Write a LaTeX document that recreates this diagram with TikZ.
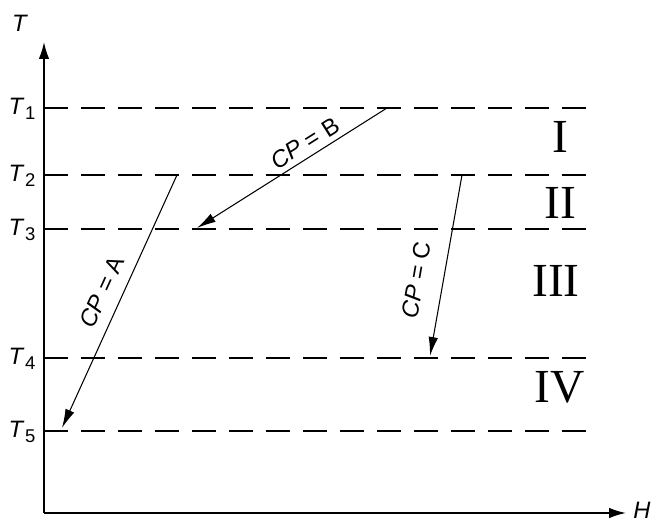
\documentclass[tikz,border=0pt]{standalone}
\usepackage{fontspec}
\setmainfont{Liberation Sans}
\newfontfamily\romanfont{Liberation Serif}
\usetikzlibrary{arrows.meta, positioning}
\newcommand{\tlev}[1]{\textit{T}\kern0.3pt\raisebox{-0.45ex}{\fontsize{10.5}{11}\selectfont #1}}

\begin{document}
\begin{tikzpicture}[
  x=0.02cm, y=-0.02cm,
  axis/.style={line width=0.9pt, -{Latex[length=0.34cm, width=0.21cm]}},
  level/.style={line width=0.7pt, dash pattern=on 0.48cm off 0.26cm},
  stream/.style={line width=0.6pt, -{Latex[length=0.38cm, width=0.19cm]}},
  templabel/.style={font=\fontsize{13.5}{15}\selectfont, inner sep=0pt},
  cplabel/.style={font=\fontsize{13.5}{15}\selectfont, inner sep=0pt},
  region/.style={font=\romanfont\fontsize{27}{30}\selectfont, inner sep=0pt}
]
  \useasboundingbox (0,0) rectangle (656,520);
  % axes
  \coordinate (O) at (44,513);
  \coordinate (Ytop) at (44,42);
  \coordinate (Xend) at (626,513);
  \node[templabel] (Tax) at (20,23) {\textit{T}};
  \node[templabel] (Hax) at (642,510) {\textit{H}};
  \draw[axis] (O) -- (Ytop);
  \draw[axis] (O) -- (Xend);
  % temperature levels
  \node[templabel] (T1) at (22,109) {\tlev{1}};
  \node[templabel] (T2) at (22,176) {\tlev{2}};
  \node[templabel] (T3) at (22,230) {\tlev{3}};
  \node[templabel] (T4) at (22,359) {\tlev{4}};
  \node[templabel] (T5) at (22,432) {\tlev{5}};
  \coordinate (L1) at (44,108); \coordinate (R1) at (595,108);
  \coordinate (L2) at (44,175); \coordinate (R2) at (595,175);
  \coordinate (L3) at (44,229); \coordinate (R3) at (595,229);
  \coordinate (L4) at (44,358); \coordinate (R4) at (595,358);
  \coordinate (L5) at (44,431); \coordinate (R5) at (595,431);
  \draw[level] (L1) -- (R1);
  \draw[level] (L2) -- (R2);
  \draw[level] (L3) -- (R3);
  \draw[level] (L4) -- (R4);
  \draw[level] (L5) -- (R5);
  % intervals
  \node[region] (I) at (560,137) {I};
  \node[region] (II) at (560,203) {II};
  \node[region] (III) at (556,281) {III};
  \node[region] (IV) at (560,387) {IV};
  % streams
  \coordinate (Astart) at (177,175);
  \coordinate (Aend) at (62,428);
  \coordinate (Bstart) at (387,108);
  \coordinate (Bend) at (197,228);
  \coordinate (Cstart) at (462,175);
  \coordinate (Cend) at (430,356);
  \draw[stream] (Astart) -- (Aend);
  \draw[stream] (Bstart) -- (Bend);
  \draw[stream] (Cstart) -- (Cend);
  \node[cplabel, rotate=65.5] (labA) at (102,292) {\textit{CP} = A};
  \node[cplabel, rotate=32.2] (labB) at (305,143) {\textit{CP} = B};
  \node[cplabel, rotate=80] (labC) at (416,280) {\textit{CP} = C};
\end{tikzpicture}
\end{document}
